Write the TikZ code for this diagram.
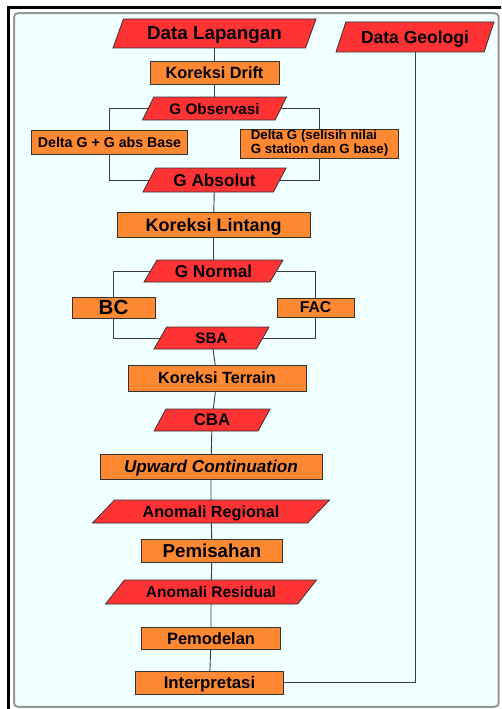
\documentclass[tikz,border=0pt]{standalone}
\usepackage{fontspec}
\setmainfont{Liberation Sans}
\usetikzlibrary{shapes.geometric}
\usetikzlibrary{positioning}

\definecolor{datared}{RGB}{255,51,51}
\definecolor{procorange}{RGB}{255,136,51}
\definecolor{pagecyan}{RGB}{240,255,255}
\definecolor{framegray}{RGB}{150,150,150}
\definecolor{linkgray}{RGB}{60,60,60}

\tikzset{
  proc/.style={rectangle, draw=black!80, fill=procorange, line width=0.8pt, inner sep=1pt, outer sep=0pt},
  data/.style={trapezium, trapezium left angle=#1, trapezium right angle={180-#1}, trapezium stretches body,
    draw=black!80, fill=datared, line width=0.8pt, inner sep=1pt, outer sep=0pt},
  data/.default=50,
  fsize/.style={font=\bfseries\fontsize{#1}{#1}\selectfont, text depth=0pt},
  link/.style={draw=linkgray, line width=0.9pt},
}

\begin{document}
\begin{tikzpicture}[x=1pt,y=-1pt]
\useasboundingbox (0,0) rectangle (501,709);
\clip (0,0) rectangle (501,709);

% frame
\draw[line width=3.5pt] (8.5,7.5) rectangle (530,740);
\draw[framegray, fill=pagecyan, line width=2pt, rounded corners=4pt] (14,13.2) rectangle (498.7,706.8);

% main column
\node[data=55, fsize=18.8, minimum width=203pt, minimum height=29pt] (lapangan) at (214.5,33.5) {Data Lapangan};
\node[proc, fsize=16.3, minimum width=129pt, minimum height=23pt] (drift) [below=13pt of lapangan] {Koreksi Drift};
\node[data=49, fsize=15.3, minimum width=144pt, minimum height=23pt] (gobs) [below=13pt of drift] {G Observasi};
\node[proc, fsize=14.2, minimum width=156pt, minimum height=24pt] (deltaabs) [below=10pt of gobs, xshift=-105pt] {Delta G + G abs Base};
\node[proc, font=\bfseries\fontsize{13.3}{14}\selectfont, align=left, minimum width=158pt, minimum height=29pt]
  (deltarel) [below=9pt of gobs, xshift=105pt] {Delta G (selisih nilai\\G station dan G base)};
\node[data=49, fsize=17.2, minimum width=143pt, minimum height=24pt] (gabs) [below=48pt of gobs] {G Absolut};
\node[proc, fsize=18, minimum width=193pt, minimum height=25pt] (lintang) [below=20pt of gabs, xshift=-1pt] {Koreksi Lintang};
\node[data=48, fsize=17.2, minimum width=139pt, minimum height=22pt] (gnormal) [below=23pt of lintang] {G Normal};
\node[proc, fsize=20.5, minimum width=83pt, minimum height=21pt] (bc) [below=15pt of gnormal, xshift=-100pt] {BC};
\node[proc, fsize=15.7, minimum width=77pt, minimum height=19pt] (fac) [below=16pt of gnormal, xshift=102pt] {FAC};
\node[data=45, fsize=15.2, minimum width=115pt, minimum height=22pt] (sba) [below=45pt of gnormal, xshift=-2pt] {SBA};
\node[proc, fsize=16.2, minimum width=178pt, minimum height=26pt] (terrain) [below=16pt of sba, xshift=5.5pt] {Koreksi Terrain};
\node[data=49, fsize=16.8, minimum width=116pt, minimum height=22pt] (cba) [below=18pt of terrain, xshift=-5pt] {CBA};
\node[proc, font=\bfseries\itshape\fontsize{17.2}{17.2}\selectfont, text depth=0pt, minimum width=222pt, minimum height=25pt]
  (upward) [below=23pt of cba, xshift=-1pt] {Upward Continuation};
\node[data=32, fsize=16.2, minimum width=237pt, minimum height=23pt] (regional) [below=21pt of upward] {Anomali Regional};
\node[proc, fsize=18.7, minimum width=141pt, minimum height=23pt] (pemisahan) [below=16pt of regional, xshift=1pt] {Pemisahan};
\node[data=35, fsize=15.5, minimum width=211pt, minimum height=24pt] (residual) [below=18pt of pemisahan, xshift=-1pt] {Anomali Residual};
\node[proc, fsize=16.5, minimum width=139pt, minimum height=22pt] (pemodelan) [below=23pt of residual] {Pemodelan};
\node[proc, fsize=16.8, minimum width=148pt, minimum height=23pt] (interp) [below=22pt of pemodelan, xshift=-1.5pt] {Interpretasi};

\node[data=56, fsize=17.5, minimum width=158pt, minimum height=30pt] (geologi) at (415,37) {Data Geologi};

% connectors
\path[link]
  (lapangan) edge (drift)
  (drift) edge (gobs)
  (gabs) edge (lintang)
  (lintang) edge (gnormal)
  (sba) edge (terrain)
  (terrain) edge (cba)
  (cba) edge (upward)
  (upward) edge (regional)
  (regional) edge (pemisahan)
  (pemisahan) edge (residual)
  (residual) edge (pemodelan)
  (pemodelan) edge (interp)
  ;
\draw[link] (gobs.west) -| (deltaabs.north);
\draw[link] (gobs.east) -| (deltarel.north);
\draw[link] (deltaabs.south) |- (gabs.west);
\draw[link] (deltarel.south) |- (gabs.east);
\draw[link] (gnormal.west) -| (bc.north);
\draw[link] (gnormal.east) -| (fac.north);
\draw[link] (bc.south) |- (sba.west);
\draw[link] (fac.south) |- (sba.east);
\draw[link] (interp.east) -| (geologi.south);

\end{tikzpicture}
\end{document}
